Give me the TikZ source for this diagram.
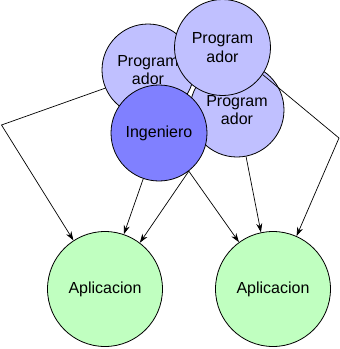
\documentclass[tikz,border=0pt]{standalone}
\usepackage{fontspec}
\setmainfont{Liberation Sans}
\usetikzlibrary{arrows.meta}
\definecolor{progfill}{RGB}{192,192,255}
\definecolor{ingfill}{RGB}{128,128,255}
\definecolor{appfill}{RGB}{192,255,192}
\tikzset{
  circ/.style={circle, draw=black, line width=0.8pt, inner sep=0pt, align=center,
    font=\fontsize{16}{18.5}\selectfont},
  prog/.style={circ, fill=progfill},
  ing/.style={circ, fill=ingfill},
  app/.style={circ, fill=appfill, minimum size=115pt},
  arr/.style={-{Stealth[length=9pt,width=6pt]}, line width=0.7pt}
}
\begin{document}
\begin{tikzpicture}[x=1pt,y=-1pt]
\useasboundingbox (0,0) rectangle (340,349);
\node[prog, minimum size=92pt] (p1) at (148,70) {Program\\ador};
\node[prog, minimum size=94pt] (p3) at (237,110) {Program\\ador};
\node[prog, minimum size=96pt] (p2) at (222.5,47.5) {Program\\ador};
\node[ing, minimum size=96pt] (ing) at (159,133) {Ingeniero};
\node[app] (a1) at (105,289) {Aplicacion};
\node[app] (a2) at (273,289) {Aplicacion};
\coordinate (bl) at (1.5,125);
\coordinate (br) at (339,138);
\draw[arr] (p1.203) -- (bl) -- (a1.123);
\draw[arr] (p2.-34) -- (br) -- (a2.66);
\draw[arr] (p3.-79) -- (a2.102);
\draw[arr] (ing.-109) -- (a1.71);
\draw[arr] (ing.-52) -- (a1.53);
\draw[arr] (ing.-52) -- (a2.126);
\end{tikzpicture}
\end{document}
